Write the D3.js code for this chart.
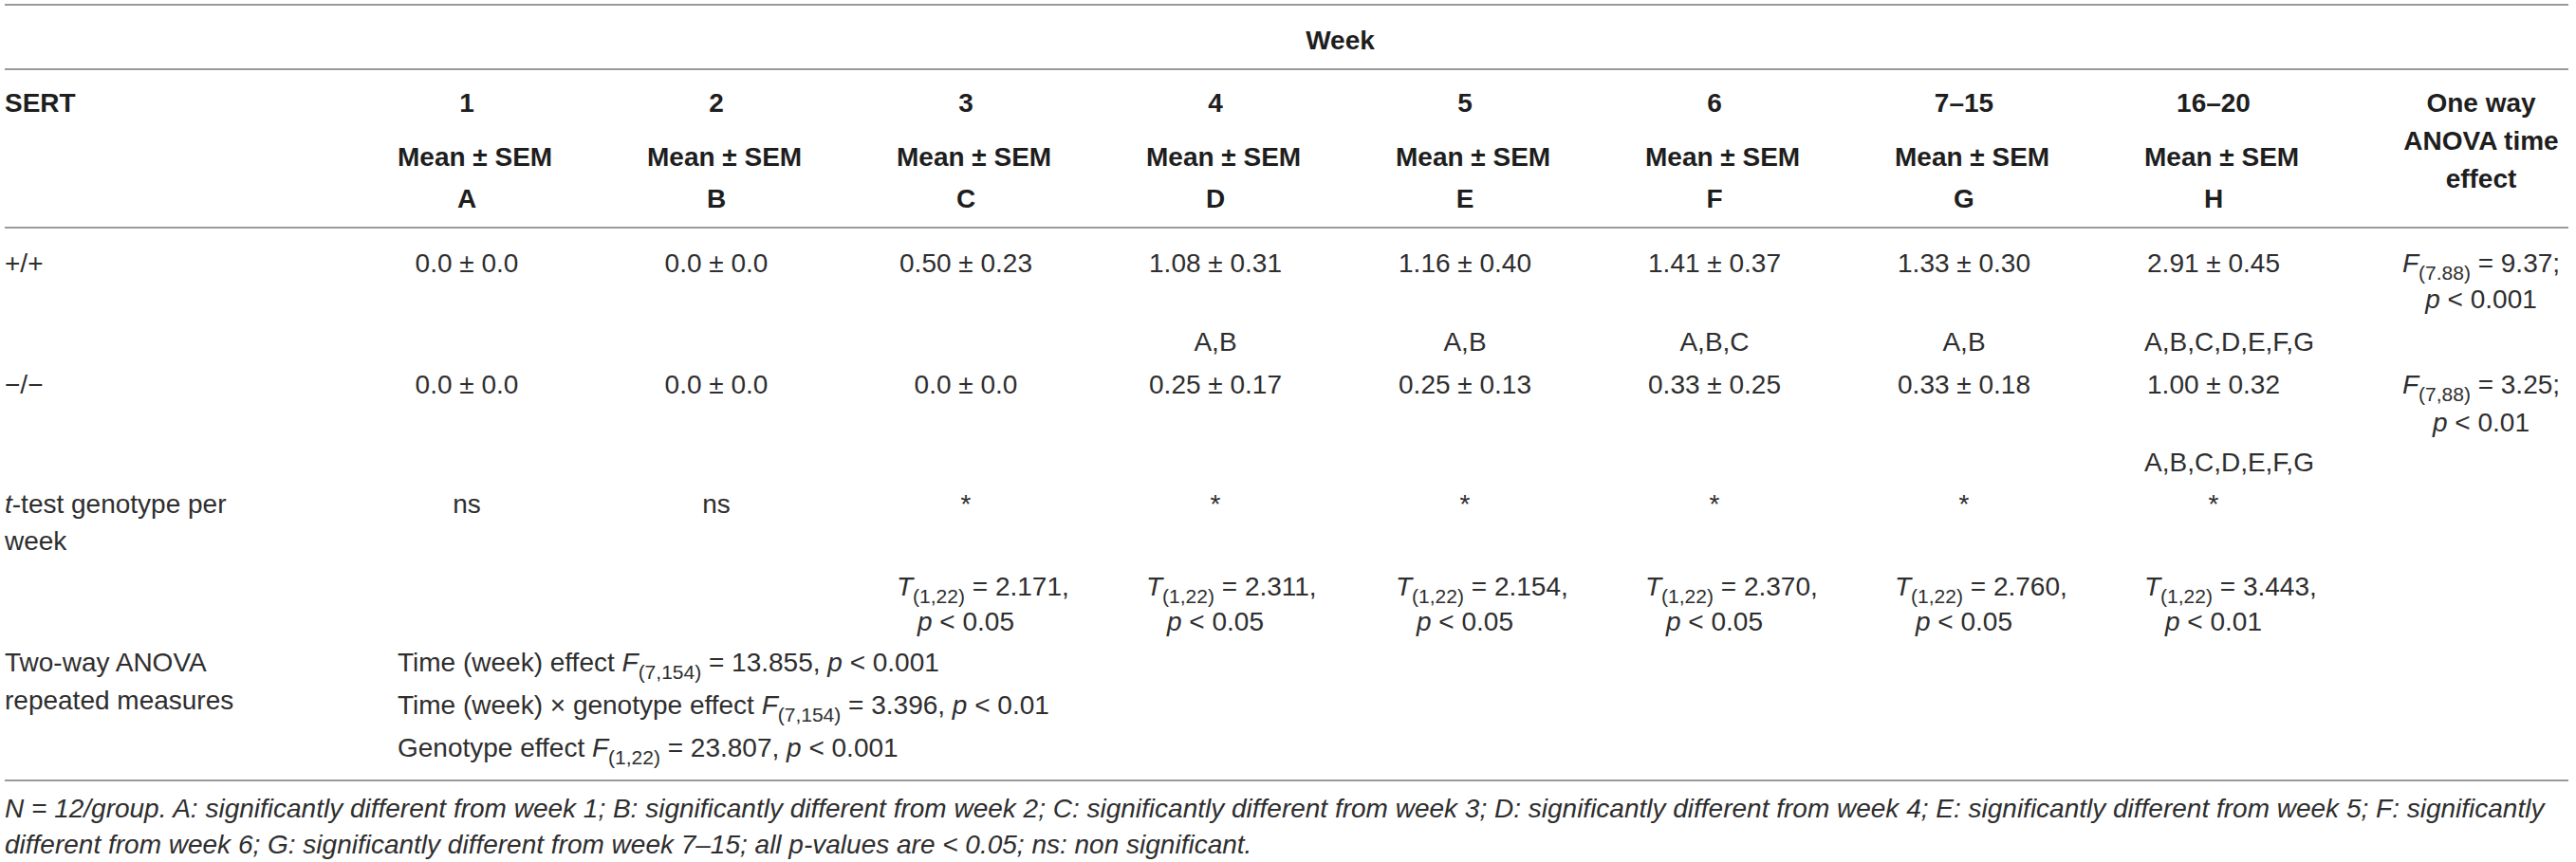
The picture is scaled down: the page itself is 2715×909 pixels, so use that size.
<!DOCTYPE html>
<html>
<head>
<meta charset="utf-8">
<script src="https://cdn.jsdelivr.net/npm/d3@7"></script>
<style>
  body { margin: 0; background: #fff; }
  svg text { font-family: "Liberation Sans", Arial, sans-serif; font-size: 28px; }
</style>
</head>
<body>
<svg id="tbl"></svg>
<script>
// --- table data ---
const weeks = ['1', '2', '3', '4', '5', '6', '7–15', '16–20'];
const weekLetters = ['A', 'B', 'C', 'D', 'E', 'F', 'G', 'H'];
const genotypes = ['+/+', '−/−'];
const wtMean = [0.0, 0.0, 0.50, 1.08, 1.16, 1.41, 1.33, 2.91];
const wtSem  = [0.0, 0.0, 0.23, 0.31, 0.40, 0.37, 0.30, 0.45];
const koMean = [0.0, 0.0, 0.0, 0.25, 0.25, 0.33, 0.33, 1.00];
const koSem  = [0.0, 0.0, 0.0, 0.17, 0.13, 0.25, 0.18, 0.32];
const wtPosthoc = ['', '', '', 'A,B', 'A,B', 'A,B,C', 'A,B', 'A,B,C,D,E,F,G'];
const koPosthoc = ['', '', '', '', '', '', '', 'A,B,C,D,E,F,G'];
const tSig = ['ns', 'ns', '*', '*', '*', '*', '*', '*'];
const tStat = [null, null, 2.171, 2.311, 2.154, 2.370, 2.760, 3.443];
const tP = [null, null, '0.05', '0.05', '0.05', '0.05', '0.05', '0.01'];
const anovaDf = ['7.88', '7,88'];
const anovaF = [9.37, 3.25];
const anovaP = ['0.001', '0.01'];
const twoWayLabels = ['Time (week) effect', 'Time (week) × genotype effect', 'Genotype effect'];
const twoWayDf = ['7,154', '7,154', '1,22'];
const twoWayF = [13.855, 3.396, 23.807];
const twoWayP = ['0.001', '0.01', '0.001'];
const footnote = [
  'N = 12/group. A: significantly different from week 1; B: significantly different from week 2; C: significantly different from week 3; D: significantly different from week 4; E: significantly different from week 5; F: significantly',
  'different from week 6; G: significantly different from week 7–15; all p-values are < 0.05; ns: non significant.'
];

const W = 2715, H = 909;
const svg = d3.select('#tbl').attr('width', W).attr('height', H);
svg.append('rect').attr('width', W).attr('height', H).attr('fill', '#fff');

// columns
const x = d3.scalePoint().domain(weeks).range([492, 2333]);
const half = 73;            // half width of a week cell
const colAnova = 2615;
const xLeft = 5, xRight = 2707, xTwoWay = 419;

// baselines of the text rows
const rowY = {
  week: 52, head1: 118, head2: 175, head3: 219,
  anova1: 118, anova2: 158, anova3: 198,
  wt: 287, wtP: 325, wtPost: 370,
  ko: 415, koP: 455, koPost: 497,
  tt: 541, tt2: 580, tStat: 628, tP: 665,
  tw1: 708, tw2: 748, tw3: 798,
  foot1: 862, foot2: 900
};
const rules = [5, 73, 240, 823];

const fmt = v => v === 0 ? '0.0' : v.toFixed(2);

// text made of segments: {t, i (italic), s (subscript)}
function rich(segs, y, opts) {
  opts = opts || {};
  const t = svg.append('text')
    .attr('y', y)
    .attr('fill', opts.bold ? '#1e1e1e' : '#2e2e2e')
    .attr('font-weight', opts.bold ? 'bold' : null)
    .attr('font-style', opts.italic ? 'italic' : null);
  let low = false;
  segs.forEach(s => {
    if (typeof s === 'string') s = { t: s };
    const sp = t.append('tspan').text(s.t);
    if (s.i) sp.attr('font-style', 'italic');
    if (s.s) {
      sp.attr('font-size', 21);
      if (!low) { sp.attr('dy', 8); low = true; }
    } else if (low) {
      sp.attr('dy', -8); low = false;
    }
  });
  return t;
}

// centre in a cell; text wider than the cell starts at its left edge
function place(t, c, h) {
  const w = t.node().getComputedTextLength();
  t.attr('x', h == null ? c - w / 2 : Math.max(c - w / 2, c - h));
  return t;
}

// rules
svg.selectAll('line.rule').data(rules).join('line')
  .attr('class', 'rule')
  .attr('x1', xLeft).attr('x2', xRight)
  .attr('y1', d => d).attr('y2', d => d)
  .attr('stroke', '#9a9a9a').attr('stroke-width', 2);

// header
place(rich(['Week'], rowY.week, { bold: true }), (x(weeks[0]) - half + x(weeks[weeks.length - 1]) + half) / 2);
rich(['SERT'], rowY.head1, { bold: true }).attr('x', xLeft);
weeks.forEach((wk, i) => {
  place(rich([wk], rowY.head1, { bold: true }), x(wk), half);
  place(rich(['Mean ± SEM'], rowY.head2, { bold: true }), x(wk), half);
  place(rich([weekLetters[i]], rowY.head3, { bold: true }), x(wk), half);
});
['One way', 'ANOVA time', 'effect'].forEach((s, k) => {
  place(rich([s], rowY['anova' + (k + 1)], { bold: true }), colAnova);
});

// genotype rows
rich([genotypes[0]], rowY.wt).attr('x', xLeft);
rich([genotypes[1]], rowY.ko).attr('x', xLeft);
weeks.forEach((wk, i) => {
  place(rich([fmt(wtMean[i]) + ' ± ' + fmt(wtSem[i])], rowY.wt), x(wk), half);
  place(rich([fmt(koMean[i]) + ' ± ' + fmt(koSem[i])], rowY.ko), x(wk), half);
  if (wtPosthoc[i]) place(rich([wtPosthoc[i]], rowY.wtPost), x(wk), half);
  if (koPosthoc[i]) place(rich([koPosthoc[i]], rowY.koPost), x(wk), half);
});
[[rowY.wt, rowY.wtP], [rowY.ko, rowY.koP]].forEach((ys, k) => {
  place(rich([{ t: 'F', i: true }, { t: '(' + anovaDf[k] + ')', s: true }, ' = ' + anovaF[k] + ';'], ys[0]), colAnova);
  place(rich([{ t: 'p', i: true }, ' < ' + anovaP[k]], ys[1]), colAnova);
});

// t-test rows
rich([{ t: 't', i: true }, '-test genotype per'], rowY.tt).attr('x', xLeft);
rich(['week'], rowY.tt2).attr('x', xLeft);
weeks.forEach((wk, i) => {
  place(rich([tSig[i]], rowY.tt), x(wk), half);
  if (tStat[i] != null) {
    place(rich([{ t: 'T', i: true }, { t: '(1,22)', s: true }, ' = ' + tStat[i].toFixed(3) + ','], rowY.tStat), x(wk), half);
    place(rich([{ t: 'p', i: true }, ' < ' + tP[i]], rowY.tP), x(wk), half);
  }
});

// two-way ANOVA
rich(['Two-way ANOVA'], rowY.tw1).attr('x', xLeft);
rich(['repeated measures'], rowY.tw2).attr('x', xLeft);
[rowY.tw1, rowY.tw2 + 5, rowY.tw3].forEach((y, k) => {
  rich([twoWayLabels[k] + ' ', { t: 'F', i: true }, { t: '(' + twoWayDf[k] + ')', s: true },
        ' = ' + twoWayF[k].toFixed(3) + ', ', { t: 'p', i: true }, ' < ' + twoWayP[k]], y)
    .attr('x', xTwoWay);
});

// footnote
footnote.forEach((s, k) => {
  rich([s], k === 0 ? rowY.foot1 : rowY.foot2, { italic: true }).attr('x', xLeft);
});
</script>
</body>
</html>
